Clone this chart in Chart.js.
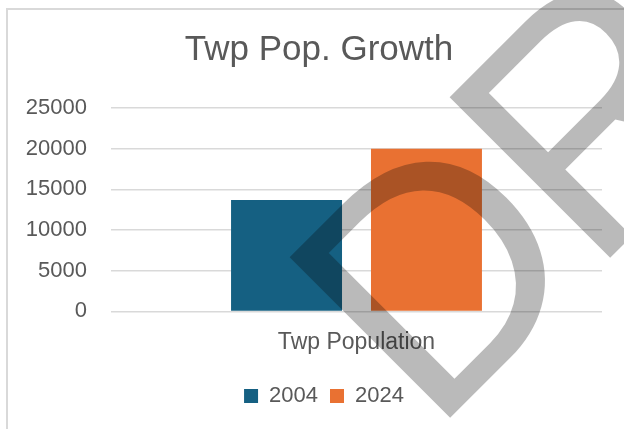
<!DOCTYPE html>
<html>
<head>
  <title>Twp Pop. Growth</title>
  <script src="https://cdn.jsdelivr.net/npm/chart.js"></script>
  <style>
    html, body { margin: 0; padding: 0; background: #fff; }
    #wrap { width: 624px; height: 429px; }
  </style>
</head>
<body>
  <div id="wrap"><canvas id="popChart"></canvas></div>

  <script>
    // data
    const categories = ['Twp Population'];
    const years = ['2004', '2024'];
    const pop2004 = [13700];
    const pop2024 = [20000];
    const yTicks = [0, 5000, 10000, 15000, 20000, 25000];

    const textColor = '#595959';
    const fontFamily = '"Liberation Sans", Arial, sans-serif';

    // white background + the light gray frame of the chart box
    const framePlugin = {
      id: 'frame',
      beforeDraw(chart) {
        const c = chart.ctx;
        c.save();
        c.fillStyle = '#fff';
        c.fillRect(0, 0, chart.width, chart.height);
        c.strokeStyle = '#d9d9d9';
        c.lineWidth = 2;
        c.beginPath();
        c.moveTo(7, chart.height);
        c.lineTo(7, 9);
        c.lineTo(chart.width, 9);
        c.stroke();
        c.restore();
      }
    };

    // title and legend sit a bit right of where chart.js centres them
    const nudgePlugin = {
      id: 'nudge',
      afterLayout(chart) {
        chart.titleBlock.left += 5;
        chart.titleBlock.right += 5;
        chart.legend.left += 10;
        chart.legend.right += 10;
      }
    };

    // the rotated gray "DRAFT" watermark laid over everything
    const watermarkPlugin = {
      id: 'watermark',
      afterDraw(chart) {
        const c = chart.ctx;
        c.save();
        c.globalCompositeOperation = 'multiply';
        c.translate(431, 437);
        c.rotate(-Math.PI / 4);
        c.font = '330px "Liberation Sans", Arial, sans-serif';
        c.letterSpacing = '-12px';
        c.textBaseline = 'alphabetic';
        c.fillStyle = '#bababa';
        c.fillText('DRAFT', 0, 0);
        c.restore();
      }
    };

    const ctx = document.getElementById('popChart').getContext('2d');

    const popChart = new Chart(ctx, {
      type: 'bar',
      data: {
        labels: categories,
        datasets: [{
          label: years[0],
          data: pop2004,
          backgroundColor: '#156082'
        }, {
          label: years[1],
          data: pop2024,
          backgroundColor: '#E97132'
        }]
      },
      options: {
        responsive: true,
        maintainAspectRatio: false,
        animation: false,
        categoryPercentage: 0.57,
        barPercentage: 0.793,
        layout: {
          padding: { left: 26, right: 22, top: 0, bottom: 12 }
        },
        plugins: {
          title: {
            display: true,
            text: 'Twp Pop. Growth',
            color: textColor,
            font: { family: fontFamily, size: 35, weight: 'normal' },
            padding: { top: 29, bottom: 37 }
          },
          legend: {
            position: 'bottom',
            labels: {
              color: textColor,
              font: { family: fontFamily, size: 22 },
              boxWidth: 14,
              boxHeight: 14,
              padding: 12
            }
          },
          tooltip: { enabled: false }
        },
        scales: {
          x: {
            grid: { display: false, drawTicks: false },
            border: { display: false },
            ticks: {
              color: textColor,
              font: { family: fontFamily, size: 23 },
              padding: 17
            }
          },
          y: {
            min: 0,
            max: 25000,
            afterBuildTicks(axis) {
              axis.ticks = yTicks.map(v => ({ value: v }));
            },
            afterFit(axis) {
              axis.width = 85;
            },
            grid: { color: '#d9d9d9', lineWidth: 1.5, drawTicks: false },
            border: { display: false },
            ticks: {
              color: textColor,
              font: { family: fontFamily, size: 22 },
              padding: 24,
              callback: v => String(v)
            }
          }
        }
      },
      plugins: [framePlugin, nudgePlugin, watermarkPlugin]
    });
  </script>
</body>
</html>
